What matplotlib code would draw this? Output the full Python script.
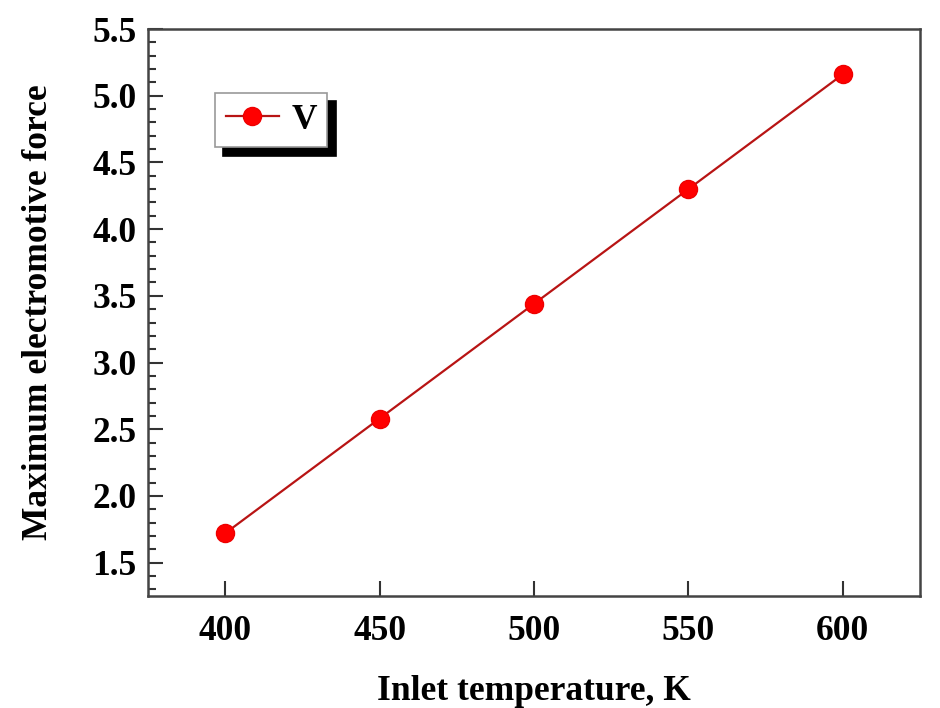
import matplotlib
matplotlib.use("Agg")
import matplotlib.pyplot as plt
from matplotlib.ticker import MultipleLocator

# values
inlet_temp = [400, 450, 500, 550, 600]
emf_v = [1.72, 2.58, 3.44, 4.30, 5.16]
y_ticks = [1.5, 2.0, 2.5, 3.0, 3.5, 4.0, 4.5, 5.0, 5.5]

plt.rcParams['font.family'] = ['Liberation Serif', 'DejaVu Serif']
plt.rcParams['font.weight'] = 'bold'

fig = plt.figure(figsize=(9.4, 7.08), dpi=100)
ax = fig.add_axes([0.1574, 0.1582, 0.8213, 0.8008])

ax.plot(inlet_temp, emf_v, color='#b81414', lw=1.6, marker='o',
        markersize=13, markerfacecolor='#ff0000', markeredgecolor='#ee0000',
        label='V')

ax.set_xlim(375, 625)
ax.set_ylim(1.25, 5.5)
ax.xaxis.set_major_locator(MultipleLocator(50))
ax.yaxis.set_minor_locator(MultipleLocator(0.1))
ax.set_yticks(y_ticks)
ax.set_yticklabels([f"{v:.1f}" for v in y_ticks])

ax.tick_params(which='both', direction='in', top=False, right=False,
               labelsize=25.5, width=1.5, color='#333333')
ax.tick_params(axis='x', pad=14)
ax.tick_params(axis='y', pad=8)
ax.tick_params(which='major', length=11)
ax.tick_params(which='minor', length=6)

for s in ax.spines.values():
    s.set_linewidth(1.8)
    s.set_color('#444444')

ax.set_xlabel('Inlet temperature, K', fontsize=25.5, fontweight='bold', labelpad=19)
ax.set_ylabel('Maximum electromotive force', fontsize=25.5, fontweight='bold', labelpad=27)

leg = ax.legend(loc='upper left', bbox_to_anchor=(0.087, 0.887), fontsize=25.5,
                handlelength=1.5, handletextpad=0.35, borderpad=0.3,
                borderaxespad=0, fancybox=False, edgecolor='#999999',
                framealpha=1,
                shadow={'ox': 6, 'oy': -6, 'color': 'black', 'alpha': 1})
leg.get_frame().set_linewidth(1.2)

fig.savefig('out.png', dpi=100)
